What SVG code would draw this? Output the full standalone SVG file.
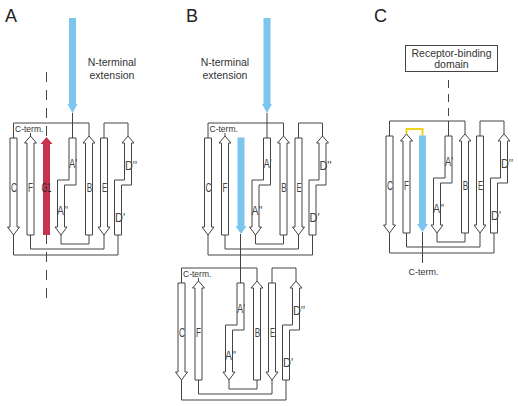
<svg xmlns="http://www.w3.org/2000/svg" width="518" height="406" viewBox="0 0 518 406">
<style>
.st{fill:#fff;stroke:#444;stroke-width:1}
.ln{fill:none;stroke:#444;stroke-width:1}
.dash{fill:none;stroke:#444;stroke-width:1;stroke-dasharray:10 8}
.yel{fill:none;stroke:#f0d31c;stroke-width:2}
.blue{fill:#7cc5ee}
.red{fill:#c5334f}
.lbl{font-family:"Liberation Sans",Arial,sans-serif;font-size:12.5px;fill:#444;text-anchor:middle}
.ct{font-family:"Liberation Sans",Arial,sans-serif;font-size:8.5px;fill:#333}
.nt{font-family:"Liberation Sans",Arial,sans-serif;font-size:10.5px;fill:#333;text-anchor:middle}
.pl{font-family:"Liberation Sans",Arial,sans-serif;font-size:18px;fill:#222}
</style>
<defs>
<path id="sC" class="st" d="M10,138 H17 V227 H19.5 L13.5,235 L7.5,227 H10 Z"/>
<path id="sF" class="st" d="M27,235 V143 H24.5 L30.5,136 L36.5,143 H34 V235 Z"/>
<path id="sA" class="st" d="M69,138 H76 V185 H64.5 V227 H67 L61,235 L55,227 H57.5 V180 H69 Z"/>
<path id="sB" class="st" d="M85.5,235 V143 H83 L89,136 L95,143 H92.5 V235 Z"/>
<path id="sE" class="st" d="M100.5,138 H107.5 V227 H110 L104,235 L98,227 H100.5 Z"/>
<path id="sD" class="st" d="M114.5,235 V180 H124.5 V143 H122 L128,136 L134,143 H131.5 V185 H121.5 V235 Z"/>
<path id="sBlue" class="blue" d="M43,137.5 H50 V226 H52 L46.5,234 L41,226 H43 Z"/>
<path id="nArrow" class="blue" d="M69,18 H76 V104 H77.5 L72.5,113 L67.5,104 H69 Z"/>
<g id="skel">
<path class="ln" d="M13.5,138 V123 H89 V136"/>
<path class="ln" d="M104,138 V123 H128 V136"/>
<path class="ln" d="M61,235 V244 H89 V235"/>
<path class="ln" d="M30.5,235 V249 H104 V235"/>
<path class="ln" d="M13.5,235 V255 H118 V235"/>
</g>
</defs>

<g id="connectors">
<g transform="translate(0,0)">
<use href="#skel"/>
<path class="ln" d="M72.5,113 V138"/>
<path class="ln" d="M30.5,136 V133"/>
<path class="dash" d="M46.5,72 V300"/>
</g>
<g transform="translate(194.5,0)">
<use href="#skel"/>
<path class="ln" d="M72.5,113 V138"/>
<path class="ln" d="M30.5,136 V133"/>
<path class="ln" d="M46,234 V283"/>
</g>
<g transform="translate(168,145)">
<use href="#skel"/>
<path class="ln" d="M30.5,136 V133"/>
</g>
<g transform="translate(376,-2)">
<use href="#skel"/>
<path class="ln" d="M72.5,123 V138"/>
<path class="dash" d="M72.5,82 V123" style="stroke-dasharray:8 6"/>
<path class="yel" d="M30.5,136 V131 H46.5 V138"/>
<path class="ln" d="M46.5,234 V265"/>
</g>
</g>

<g id="panel-A">
<text class="pl" x="5" y="22">A</text>
<use id="A-nterm" href="#nArrow"/>
<text class="nt" x="112" y="66">N-terminal</text>
<text class="nt" x="112" y="79">extension</text>
<g id="A-C"><use href="#sC"/><text class="lbl" x="14" y="192" textLength="6" lengthAdjust="spacingAndGlyphs">C</text></g>
<g id="A-F"><use href="#sF"/><text class="lbl" x="30.5" y="192" textLength="5" lengthAdjust="spacingAndGlyphs">F</text></g>
<g id="A-G1"><path class="red" d="M43,235 V144 H40.5 L46.5,137 L52.5,144 H50 V235 Z"/><text class="lbl" x="46.5" y="192" textLength="10" lengthAdjust="spacingAndGlyphs" style="fill:#2a2a2a">G1</text></g>
<g id="A-A"><use href="#sA"/><text class="lbl" x="73" y="168" textLength="8" lengthAdjust="spacingAndGlyphs">A'</text><text class="lbl" x="62.5" y="215" textLength="11" lengthAdjust="spacingAndGlyphs">A''</text></g>
<g id="A-B"><use href="#sB"/><text class="lbl" x="89.5" y="192" textLength="5.5" lengthAdjust="spacingAndGlyphs">B</text></g>
<g id="A-E"><use href="#sE"/><text class="lbl" x="104.5" y="192" textLength="5" lengthAdjust="spacingAndGlyphs">E</text></g>
<g id="A-D"><use href="#sD"/><text class="lbl" x="131" y="170" textLength="12" lengthAdjust="spacingAndGlyphs">D''</text><text class="lbl" x="120" y="222" textLength="10" lengthAdjust="spacingAndGlyphs">D'</text></g>
<text class="ct" x="15" y="132">C-term.</text>
</g>

<g id="panel-B">
<text class="pl" x="186" y="22">B</text>
<text class="nt" x="225" y="66">N-terminal</text>
<text class="nt" x="225" y="79">extension</text>
<g transform="translate(194.5,0)">
<use id="B-nterm" href="#nArrow"/>
<g id="B-C"><use href="#sC"/><text class="lbl" x="14" y="192" textLength="6" lengthAdjust="spacingAndGlyphs">C</text></g>
<g id="B-F"><use href="#sF"/><text class="lbl" x="30.5" y="192" textLength="5" lengthAdjust="spacingAndGlyphs">F</text></g>
<g id="B-G"><use href="#sBlue"/></g>
<g id="B-A"><use href="#sA"/><text class="lbl" x="73" y="168" textLength="8" lengthAdjust="spacingAndGlyphs">A'</text><text class="lbl" x="62.5" y="215" textLength="11" lengthAdjust="spacingAndGlyphs">A''</text></g>
<g id="B-B"><use href="#sB"/><text class="lbl" x="89.5" y="192" textLength="5.5" lengthAdjust="spacingAndGlyphs">B</text></g>
<g id="B-E"><use href="#sE"/><text class="lbl" x="104.5" y="192" textLength="5" lengthAdjust="spacingAndGlyphs">E</text></g>
<g id="B-D"><use href="#sD"/><text class="lbl" x="131" y="170" textLength="12" lengthAdjust="spacingAndGlyphs">D''</text><text class="lbl" x="120" y="222" textLength="10" lengthAdjust="spacingAndGlyphs">D'</text></g>
<text class="ct" x="15" y="132">C-term.</text>
</g>
<g transform="translate(168,145)">
<g id="B2-C"><use href="#sC"/><text class="lbl" x="14" y="192" textLength="6" lengthAdjust="spacingAndGlyphs">C</text></g>
<g id="B2-F"><use href="#sF"/><text class="lbl" x="30.5" y="192" textLength="5" lengthAdjust="spacingAndGlyphs">F</text></g>
<g id="B2-A"><use href="#sA"/><text class="lbl" x="73" y="168" textLength="8" lengthAdjust="spacingAndGlyphs">A'</text><text class="lbl" x="62.5" y="215" textLength="11" lengthAdjust="spacingAndGlyphs">A''</text></g>
<g id="B2-B"><use href="#sB"/><text class="lbl" x="89.5" y="192" textLength="5.5" lengthAdjust="spacingAndGlyphs">B</text></g>
<g id="B2-E"><use href="#sE"/><text class="lbl" x="104.5" y="192" textLength="5" lengthAdjust="spacingAndGlyphs">E</text></g>
<g id="B2-D"><use href="#sD"/><text class="lbl" x="131" y="170" textLength="12" lengthAdjust="spacingAndGlyphs">D''</text><text class="lbl" x="120" y="222" textLength="10" lengthAdjust="spacingAndGlyphs">D'</text></g>
<text class="ct" x="15" y="132">C-term.</text>
</g>
</g>

<g id="panel-C">
<text class="pl" x="374" y="22">C</text>
<g id="C-rbd">
<rect x="405.5" y="45.5" width="92" height="26" fill="#fff" stroke="#444" stroke-width="1"/>
<text class="nt" x="451.5" y="57">Receptor-binding</text>
<text class="nt" x="451.5" y="68">domain</text>
</g>
<g transform="translate(376,-2)">
<g id="C-C"><use href="#sC"/><text class="lbl" x="14" y="192" textLength="6" lengthAdjust="spacingAndGlyphs">C</text></g>
<g id="C-F"><use href="#sF"/><text class="lbl" x="30.5" y="192" textLength="5" lengthAdjust="spacingAndGlyphs">F</text></g>
<g id="C-G"><use href="#sBlue"/></g>
<g id="C-A"><use href="#sA"/><text class="lbl" x="73" y="168" textLength="8" lengthAdjust="spacingAndGlyphs">A'</text><text class="lbl" x="62.5" y="215" textLength="11" lengthAdjust="spacingAndGlyphs">A''</text></g>
<g id="C-B"><use href="#sB"/><text class="lbl" x="89.5" y="192" textLength="5.5" lengthAdjust="spacingAndGlyphs">B</text></g>
<g id="C-E"><use href="#sE"/><text class="lbl" x="104.5" y="192" textLength="5" lengthAdjust="spacingAndGlyphs">E</text></g>
<g id="C-D"><use href="#sD"/><text class="lbl" x="131" y="170" textLength="12" lengthAdjust="spacingAndGlyphs">D''</text><text class="lbl" x="120" y="222" textLength="10" lengthAdjust="spacingAndGlyphs">D'</text></g>
<text class="ct" x="47.5" y="277" text-anchor="middle" style="font-size:9px">C-term.</text>
</g>
</g>
</svg>
